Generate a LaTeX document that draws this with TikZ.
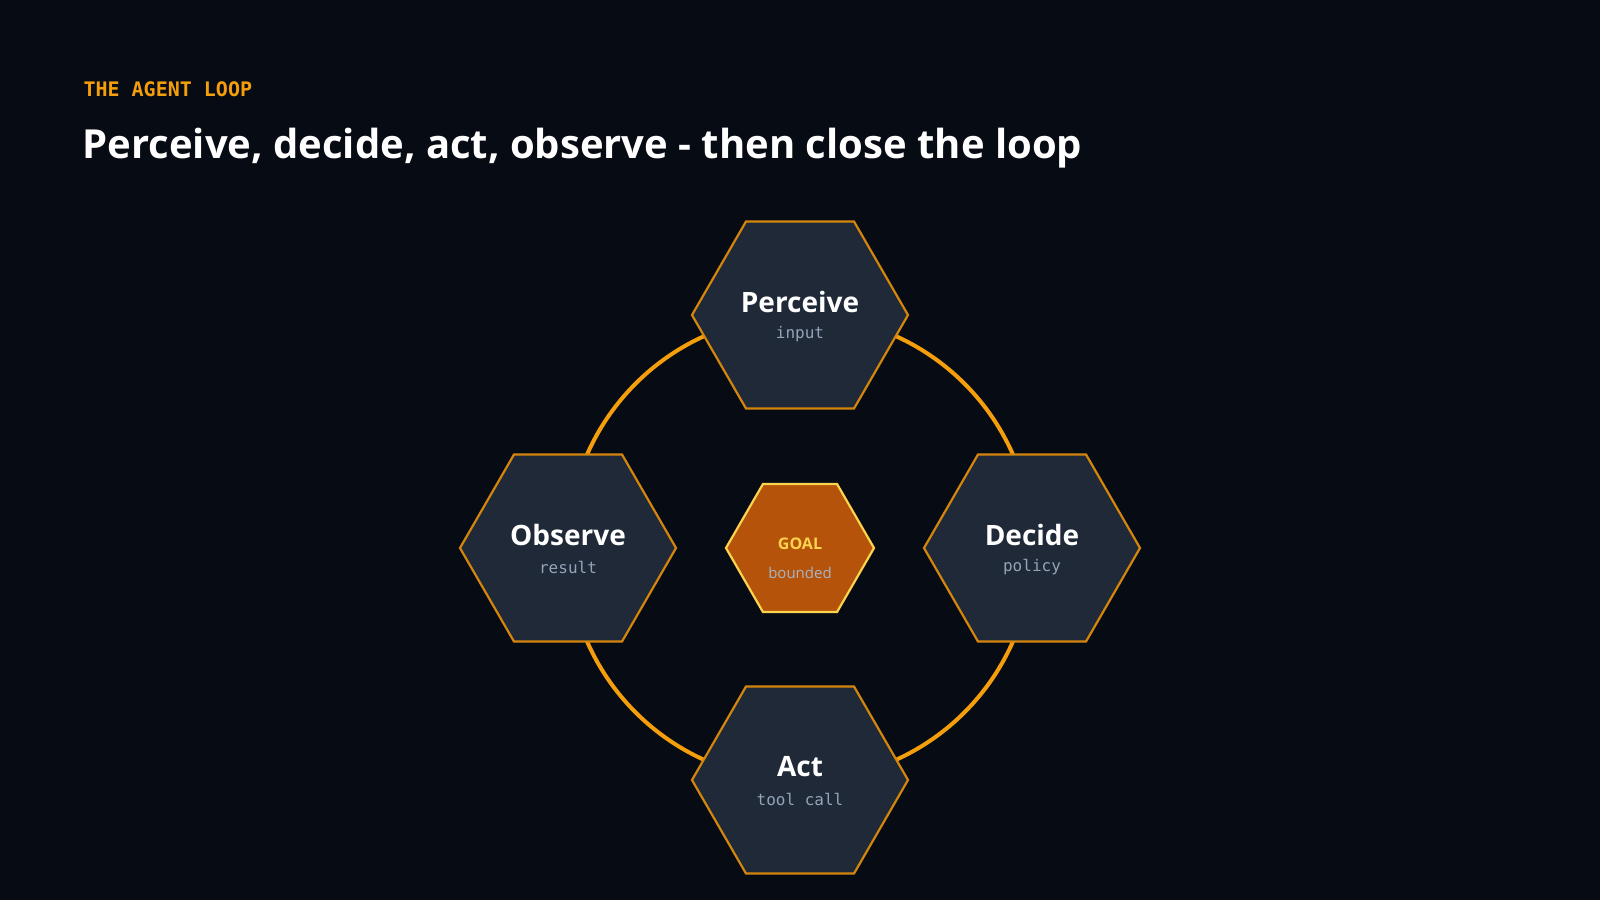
\documentclass[tikz,border=0pt]{standalone}
\usepackage{fontspec}
\setmainfont{Open Sans}
\setmonofont{DejaVu Sans Mono}
\usetikzlibrary{shapes.geometric}
\definecolor{bg}{HTML}{070B14}
\definecolor{hexfill}{HTML}{1F2937}
\definecolor{hexline}{HTML}{D4850B}
\definecolor{ring}{HTML}{F59E0B}
\definecolor{goalfill}{HTML}{B45309}
\definecolor{goalline}{HTML}{FCD34D}
\definecolor{subtxt}{HTML}{94A3B8}
\begin{document}
\begin{tikzpicture}[x=1pt,y=-1pt,
  hex/.style={regular polygon,regular polygon sides=6,minimum size=216pt,inner sep=0pt,fill=hexfill,draw=hexline,line width=2.2pt},
  lbl/.style={font=\fontsize{28}{30}\selectfont\bfseries,text=white},
  sub/.style={font=\fontsize{16}{18}\selectfont\ttfamily,text=subtxt}]
\fill[bg] (0,0) rectangle (1600,900);
\useasboundingbox (0,0) rectangle (1600,900);
\node[anchor=base west,font=\fontsize{20}{22}\selectfont\ttfamily\bfseries,text=ring] (kicker) at (80,96) {THE AGENT LOOP};
\node[anchor=base west,font=\fontsize{40}{44}\selectfont\bfseries,text=white] (title) at (79,158) {Perceive, decide, act, observe - then close the loop};
\coordinate (c) at (800,548);
\draw[ring,line width=4pt] (c) circle (232.5);
\foreach \n/\x/\y/\a/\b in {per/800/315/Perceive/input, dec/1032/548/Decide/policy, act/800/780/Act/tool call, obs/568/548/Observe/result}{
  \node[hex] (\n) at (\x,\y) {};
  \node[lbl] (\n l) at (\x,\y-13) {\a};
  \node[sub] (\n s) at (\x,\y+19) {\b};
}
\node[regular polygon,regular polygon sides=6,minimum size=148pt,inner sep=0pt,fill=goalfill,draw=goalline,line width=2.2pt] (goal) at (c) {};
\node[font=\fontsize{16}{18}\selectfont\bfseries,text=goalline] (goall) at (800,544) {GOAL};
\node[font=\fontsize{15}{17}\selectfont,text=subtxt!80!white] (goals) at (800,573) {bounded};
\end{tikzpicture}
\end{document}
